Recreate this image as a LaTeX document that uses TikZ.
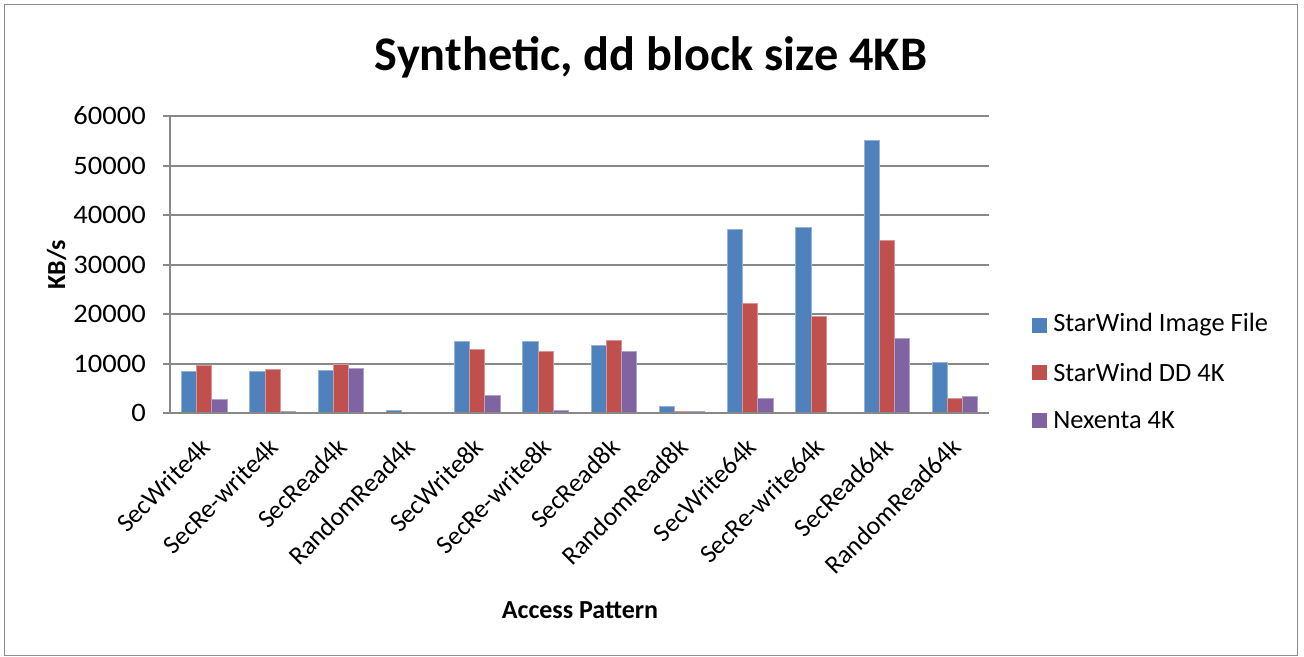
\documentclass[tikz,border=0pt]{standalone}
\usepackage{fontspec}
\usepackage{graphicx}
\setmainfont{Carlito}
\definecolor{sblue}{HTML}{4F81BD}
\definecolor{sred}{HTML}{C0504D}
\definecolor{spurple}{HTML}{8064A2}
\definecolor{gridgray}{HTML}{888888}
\definecolor{framegray}{HTML}{8C8C8C}
\newcommand{\wideNum}[1]{\scalebox{1.07}[1]{#1}}
\tikzset{
  gridline/.style={draw=gridgray, line width=1.5pt},
  ticklbl/.style={font=\fontsize{20}{22}\selectfont, anchor=east, inner sep=0pt},
  catlbl/.style={font=\fontsize{19.5}{22}\selectfont, rotate=45, anchor=north east, inner sep=0pt},
  legtxt/.style={font=\fontsize{19.8}{22}\selectfont, anchor=west, inner sep=0pt},
  axtitle/.style={font=\bfseries\fontsize{19.5}{22}\selectfont, anchor=base, inner sep=0pt},
  charttitle/.style={font=\bfseries\fontsize{36.2}{40}\selectfont, anchor=base, inner sep=0pt},
  barA/.style={fill=sblue, draw=sblue!60!white, line width=0.4pt},
  barB/.style={fill=sred, draw=sred!60!white, line width=0.4pt},
  barC/.style={fill=spurple, draw=spurple!60!white, line width=0.4pt},
}
\begin{document}
\begin{tikzpicture}[x=0.75pt,y=-0.75pt]
\useasboundingbox (0,0) rectangle (1304,657);
\fill[white] (0,0) rectangle (1304,657);
\draw[framegray, line width=1.2pt] (4.5,4.5) rectangle (1297.5,655.5);

% title
\node[charttitle] (title) at (651,70) {Synthetic, dd block size 4KB};

% gridlines, ticks and tick labels
\foreach \k/\lab in {0/0,1/10000,2/20000,3/30000,4/40000,5/50000,6/60000}{
  \pgfmathsetmacro\yy{413-49.5*\k}
  \draw[gridline] (170,\yy) -- (989,\yy);
  \draw[gridline] (163,\yy) -- (170,\yy);
  \node[ticklbl] (tick\k) at (146,\yy) {\wideNum{\lab}};
}
\draw[gridline] (170,116) -- (170,413);

% bars (values in thousands)
\def\bw{15.17}
\foreach \i/\a/\b/\c in {
  0/8.45/9.55/2.85,
  1/8.35/8.85/0.30,
  2/8.70/9.75/8.95,
  3/0.60/0.12/0.15,
  4/14.40/12.95/3.50,
  5/14.40/12.45/0.47,
  6/13.70/14.65/12.55,
  7/1.30/0.28/0.40,
  8/37.20/22.20/2.90,
  9/37.60/19.45/0.25,
  10/55.00/34.90/15.00,
  11/10.25/3.03/3.30}{
  \pgfmathsetmacro\xl{170+68.25*\i+11.375}
  \pgfmathsetmacro\ya{413-4.95*\a}
  \pgfmathsetmacro\yb{413-4.95*\b}
  \pgfmathsetmacro\yc{413-4.95*\c}
  \draw[barA] (\xl,413) rectangle ({\xl+\bw},\ya);
  \draw[barB] ({\xl+\bw},413) rectangle ({\xl+2*\bw},\yb);
  \draw[barC] ({\xl+2*\bw},413) rectangle ({\xl+3*\bw},\yc);
}
\draw[gridline] (170,413) -- (989,413);

% category labels
\foreach \i/\name in {0/SecWrite4k,1/SecRe-write4k,2/SecRead4k,3/RandomRead4k,
  4/SecWrite8k,5/SecRe-write8k,6/SecRead8k,7/RandomRead8k,
  8/SecWrite64k,9/SecRe-write64k,10/SecRead64k,11/RandomRead64k}{
  \node[catlbl] (cat\i) at ({170+68.25*\i+34.125-5},436) {\name};
}

% axis titles
\node[axtitle] (xtitle) at (580,618) {Access Pattern};
\node[axtitle, rotate=90] (ytitle) at (65,264.5) {KB/s};

% legend
\fill[sblue] (1032,317.5) rectangle (1047,332.5);
\node[legtxt] (legA) at (1053,325) {StarWind Image File};
\fill[sred] (1032,365) rectangle (1047,380);
\node[legtxt] (legB) at (1053,372.5) {StarWind DD 4K};
\fill[spurple] (1032,412.5) rectangle (1047,427.5);
\node[legtxt] (legC) at (1053,420) {Nexenta 4K};
\end{tikzpicture}
\end{document}
